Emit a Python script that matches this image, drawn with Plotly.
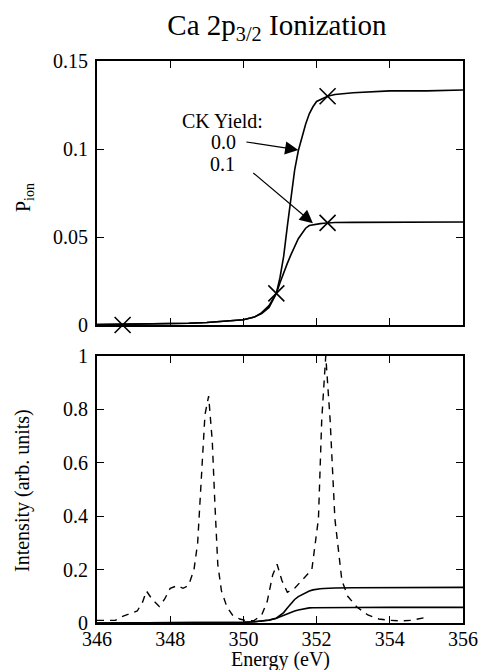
import plotly.graph_objects as go

# ---- data ----
energy_p = [346.0, 346.5, 347.0, 347.5, 348.0, 348.5, 349.0, 349.5, 350.0, 350.3, 350.5,
            350.7, 350.9, 351.0, 351.1, 351.2, 351.3, 351.4, 351.5, 351.6, 351.7, 351.8,
            351.9, 352.0, 352.1, 352.2, 352.3, 352.5, 353.0, 354.0, 355.0, 356.0]
p_ck00 = [0.0002, 0.0003, 0.0004, 0.0006, 0.0008, 0.001, 0.0014, 0.002, 0.003, 0.0045, 0.007,
          0.011, 0.018, 0.027, 0.039, 0.056, 0.073, 0.088, 0.099, 0.107, 0.114, 0.120,
          0.124, 0.127, 0.128, 0.129, 0.130, 0.131, 0.132, 0.133, 0.133, 0.1335]
p_ck01 = [0.0002, 0.0003, 0.0004, 0.0006, 0.0008, 0.001, 0.0014, 0.002, 0.003, 0.0045, 0.0065,
          0.010, 0.018, 0.024, 0.030, 0.035, 0.040, 0.045, 0.049, 0.052, 0.055, 0.0565,
          0.057, 0.0573, 0.0576, 0.0578, 0.058, 0.0582, 0.0583, 0.0584, 0.0585, 0.0585]

marker_e = [346.7, 350.9, 352.3, 352.3]
marker_p = [0.0, 0.018, 0.130, 0.058]

energy_s = [346.0, 346.3, 346.5, 346.7, 346.9, 347.1, 347.25, 347.35, 347.5, 347.7, 347.85,
            348.0, 348.2, 348.35, 348.5, 348.65, 348.75, 348.85, 348.95, 349.05, 349.15,
            349.22, 349.3, 349.4, 349.55, 349.7, 349.9, 350.1, 350.3, 350.5, 350.65, 350.8,
            350.92, 351.05, 351.2, 351.4, 351.6, 351.87, 352.05, 352.14, 352.25, 352.37,
            352.5, 352.69, 352.85, 353.1, 353.4, 353.7, 354.0, 354.3, 354.6, 354.95]
intensity = [0.01, 0.01, 0.01, 0.025, 0.035, 0.045, 0.08, 0.12, 0.09, 0.062, 0.09,
             0.13, 0.14, 0.13, 0.14, 0.2, 0.3, 0.55, 0.78, 0.85, 0.68,
             0.45, 0.22, 0.12, 0.06, 0.03, 0.015, 0.008, 0.01, 0.03, 0.08, 0.18,
             0.22, 0.16, 0.115, 0.13, 0.16, 0.2, 0.39, 0.76, 1.0, 0.76,
             0.39, 0.16, 0.1, 0.06, 0.03, 0.015, 0.01, 0.008, 0.01, 0.02]

FONT = "Times New Roman, Liberation Serif, serif"
BLK = "black"
H = 670
TOP, BOT = 61, 623  # plot area pixel bounds (for paper-coordinate conversions)


def py(pix):
    """pixel row -> paper y"""
    return (BOT - pix) / (BOT - TOP)


def px(pix):
    """pixel column -> paper x"""
    return (pix - 97) / (463 - 97)


fig = go.Figure()
# top panel
fig.add_trace(go.Scatter(x=energy_p, y=p_ck00, mode="lines", line=dict(color=BLK, width=1.6),
                         xaxis="x", yaxis="y", showlegend=False))
fig.add_trace(go.Scatter(x=energy_p, y=p_ck01, mode="lines", line=dict(color=BLK, width=1.6),
                         xaxis="x", yaxis="y", showlegend=False))
fig.add_trace(go.Scatter(x=marker_e, y=marker_p, mode="markers",
                         marker=dict(symbol="x-thin-open", size=16, color=BLK,
                                     line=dict(color=BLK, width=1.6)),
                         cliponaxis=False, xaxis="x", yaxis="y", showlegend=False))
# bottom panel
fig.add_trace(go.Scatter(x=energy_s, y=intensity, mode="lines",
                         line=dict(color=BLK, width=1.4, dash="7px,6px"),
                         xaxis="x2", yaxis="y2", showlegend=False))
fig.add_trace(go.Scatter(x=energy_p, y=p_ck00, mode="lines", line=dict(color=BLK, width=1.6),
                         xaxis="x2", yaxis="y2", showlegend=False))
fig.add_trace(go.Scatter(x=energy_p, y=p_ck01, mode="lines", line=dict(color=BLK, width=1.6),
                         xaxis="x2", yaxis="y2", showlegend=False))

TICKFONT = dict(family=FONT, size=20, color=BLK)
axis_common = dict(showline=True, linecolor=BLK, linewidth=1.8, mirror="ticks",
                   ticks="inside", ticklen=7, tickwidth=1.3, tickcolor=BLK,
                   showgrid=False, zeroline=False, automargin=False, tickfont=TICKFONT)

fig.update_layout(
    template="none",
    width=480, height=H,
    margin=dict(l=97, r=17, t=TOP, b=H - BOT),
    paper_bgcolor="white", plot_bgcolor="white",
    font=dict(family=FONT, color=BLK, size=20),
    title=dict(text="Ca 2p<sub>3/2</sub> Ionization", x=0.577, xanchor="center",
               y=1 - 25 / H, yanchor="middle", yref="container",
               font=dict(family=FONT, size=29, color=BLK)),
    xaxis=dict(domain=[0, 1], anchor="y", range=[346, 356], dtick=2, tick0=346,
               showticklabels=False, **axis_common),
    yaxis=dict(domain=[py(325), 1], anchor="x", range=[0, 0.15], dtick=0.05,
               ticklabelstandoff=3, **axis_common),
    xaxis2=dict(domain=[0, 1], anchor="y2", range=[346, 356], dtick=2, tick0=346,
                ticklabelstandoff=-3, **axis_common),
    yaxis2=dict(domain=[0, py(356)], anchor="x2", range=[0, 1], dtick=0.2,
                ticklabelstandoff=3, **axis_common),
)

title_font = dict(family=FONT, size=20, color=BLK)
fig.add_annotation(x=px(24), y=py(198), xref="paper", yref="paper", text="P<sub>ion</sub>",
                   textangle=-90, showarrow=False, font=title_font,
                   xanchor="center", yanchor="middle")
fig.add_annotation(x=px(22), y=py(491), xref="paper", yref="paper", text="Intensity (arb. units)",
                   textangle=-90, showarrow=False, font=title_font,
                   xanchor="center", yanchor="middle")
fig.add_annotation(x=px(280), y=py(659.5), xref="paper", yref="paper", text="Energy (eV)",
                   showarrow=False, font=title_font, xanchor="center", yanchor="middle")

ann_font = dict(family=FONT, size=20, color=BLK)
fig.add_annotation(x=349.43, y=0.1157, xref="x", yref="y", text="CK Yield:", showarrow=False, font=ann_font)
fig.add_annotation(x=349.46, y=0.1038, xref="x", yref="y", text="0.0", showarrow=False, font=ann_font)
fig.add_annotation(x=349.44, y=0.0915, xref="x", yref="y", text="0.1", showarrow=False, font=ann_font)
# arrows
fig.add_annotation(x=351.5, y=0.0995, ax=350.04, ay=0.1041, xref="x", yref="y", axref="x", ayref="y",
                   text="", showarrow=True, arrowhead=2, arrowsize=2.2, arrowwidth=1.2, arrowcolor=BLK)
fig.add_annotation(x=351.9, y=0.0578, ax=350.23, ay=0.0871, xref="x", yref="y", axref="x", ayref="y",
                   text="", showarrow=True, arrowhead=2, arrowsize=2.2, arrowwidth=1.2, arrowcolor=BLK)

fig.write_html("out.html")
